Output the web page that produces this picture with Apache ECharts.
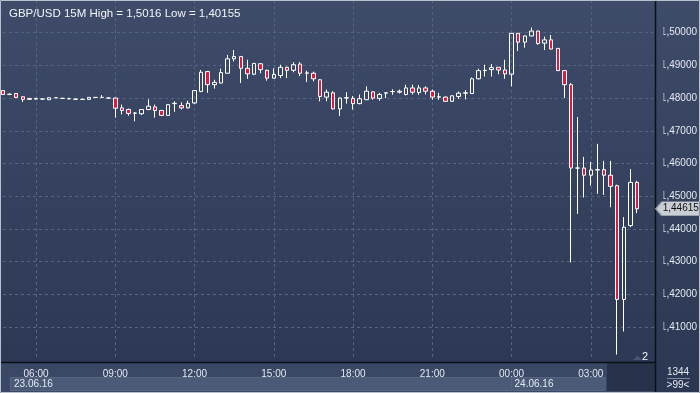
<!DOCTYPE html>
<html>
<head>
<meta charset="utf-8">
<script src="https://cdn.jsdelivr.net/npm/echarts@6/dist/echarts.min.js"></script>
<style>
html,body{margin:0;padding:0;background:#2f3c58;}
#chart{width:700px;height:393px;}
</style>
</head>
<body>
<div id="chart"></div>
<script>
// ---- data (15-minute candles, 23.06.16 04:45 -> 24.06.16 04:45) ----
const startTime = '04:45';
const slotCount = 100; // includes empty future slots at the right edge
const openPrices = [
1.4823,1.4811,1.4814,1.4804,1.4796,1.4797,1.4797,1.4795,1.4801,1.4799,
1.4798,1.4797,1.4796,1.4796,1.4802,1.4802,1.4800,1.4800,1.4770,1.4765,
1.4754,1.4752,1.4765,1.4773,1.4762,1.4747,1.4783,1.4777,1.4770,1.4785,
1.4820,1.4881,1.4841,1.4846,1.4876,1.4920,1.4927,1.4891,1.4873,1.4905,
1.4885,1.4861,1.4869,1.4894,1.4885,1.4904,1.4876,1.4876,1.4856,1.4803,
1.4816,1.4767,1.4800,1.4799,1.4783,1.4795,1.4819,1.4799,1.4815,1.4820,
1.4818,1.4811,1.4831,1.4817,1.4831,1.4821,1.4803,1.4803,1.4790,1.4805,
1.4815,1.4814,1.4859,1.4884,1.4887,1.4894,1.4886,1.4873,1.4998,1.4971,
1.4990,1.5005,1.4968,1.4978,1.4952,1.4884,1.4841,1.4586,1.4586,1.4564,
1.4580,1.4581,1.4564,1.4532,1.4184,1.4410,1.4542];
const highPrices = [
1.4824,1.4814,1.4815,1.4805,1.4800,1.4800,1.4799,1.4802,1.4802,1.4801,
1.4801,1.4799,1.4798,1.4803,1.4803,1.4809,1.4801,1.4801,1.4780,1.4768,
1.4757,1.4766,1.4796,1.4780,1.4764,1.4781,1.4790,1.4787,1.4792,1.4824,
1.4886,1.4883,1.4856,1.4890,1.4932,1.4947,1.4929,1.4917,1.4907,1.4907,
1.4887,1.4891,1.4902,1.4896,1.4910,1.4910,1.4884,1.4881,1.4858,1.4826,
1.4821,1.4802,1.4818,1.4806,1.4811,1.4836,1.4821,1.4816,1.4818,1.4827,
1.4826,1.4841,1.4841,1.4840,1.4836,1.4826,1.4816,1.4805,1.4808,1.4820,
1.4824,1.4863,1.4890,1.4902,1.4904,1.4895,1.4917,1.4999,1.4999,1.4991,
1.5016,1.5006,1.4988,1.4993,1.4953,1.4886,1.4846,1.4742,1.4620,1.4605,
1.4660,1.4608,1.4608,1.4535,1.4436,1.4583,1.4547];
const lowPrices = [
1.4810,1.4809,1.4800,1.4788,1.4795,1.4795,1.4796,1.4794,1.4800,1.4797,
1.4796,1.4794,1.4794,1.4795,1.4801,1.4801,1.4798,1.4740,1.4750,1.4746,
1.4729,1.4748,1.4763,1.4740,1.4745,1.4746,1.4758,1.4765,1.4768,1.4782,
1.4818,1.4816,1.4829,1.4845,1.4875,1.4912,1.4846,1.4859,1.4870,1.4876,
1.4853,1.4860,1.4861,1.4861,1.4879,1.4867,1.4849,1.4851,1.4790,1.4790,
1.4765,1.4745,1.4783,1.4765,1.4781,1.4794,1.4795,1.4792,1.4800,1.4810,
1.4814,1.4808,1.4811,1.4810,1.4811,1.4795,1.4795,1.4788,1.4789,1.4797,
1.4796,1.4813,1.4857,1.4866,1.4866,1.4873,1.4859,1.4836,1.4944,1.4954,
1.4989,1.4963,1.4947,1.4949,1.4883,1.4800,1.4297,1.4446,1.4496,1.4532,
1.4507,1.4504,1.4466,1.40155,1.4086,1.4405,1.4448];
const closePrices = [
1.4811,1.4812,1.4802,1.4796,1.4799,1.4799,1.4797,1.4801,1.4801,1.4799,
1.4798,1.4796,1.4796,1.4802,1.4802,1.4802,1.4800,1.4769,1.4762,1.4753,
1.4754,1.4765,1.4775,1.4762,1.4747,1.4780,1.4784,1.4770,1.4784,1.4823,
1.4879,1.4841,1.4848,1.4878,1.4920,1.4927,1.4891,1.4874,1.4906,1.4887,
1.4861,1.4872,1.4894,1.4885,1.4902,1.4876,1.4877,1.4859,1.4805,1.4818,
1.4767,1.4800,1.4801,1.4783,1.4798,1.4821,1.4800,1.4811,1.4816,1.4820,
1.4821,1.4831,1.4818,1.4831,1.4821,1.4803,1.4804,1.4790,1.4807,1.4815,
1.4816,1.4859,1.4884,1.4885,1.4893,1.4886,1.4874,1.4998,1.4971,1.4990,
1.5005,1.4967,1.4978,1.4950,1.4884,1.4841,1.4586,1.4586,1.4564,1.4580,
1.4581,1.4564,1.4530,1.4184,1.4405,1.4542,1.44615];
const yTickMin = 1.40, yTickMax = 1.51, yTickStep = 0.01;
const titleText = 'GBP/USD 15M High = 1,5016 Low = 1,40155';
const dateLabels = ['23.06.16', '24.06.16'];
const dayStartIndex = 77; // 00:00 of 24.06.16
const footerCount = '1344';
const footerZoom = '>99<';
const cornerLabel = '2';

// ---- build categories & candle table ----
const times = [];
{
  const [h0, m0] = startTime.split(':').map(Number);
  for (let i = 0; i < slotCount; i++) {
    const m = h0 * 60 + m0 + 15 * i;
    const hh = Math.floor(m / 60) % 24, mm = m % 60;
    times.push(String(hh).padStart(2, '0') + ':' + String(mm).padStart(2, '0'));
  }
}
const candles = times.map((t, i) => i < openPrices.length
  ? [openPrices[i], closePrices[i], lowPrices[i], highPrices[i]] : '-');
const lastIdx = openPrices.length - 1;
const lastClose = closePrices[lastIdx];
const fmt = (v, d) => v.toFixed(d).replace('.', ',');
const isMajor = (idx, val) => { const v = times[idx]; return v.endsWith(':00') && (+v.slice(0, 2)) % 3 === 0; };

const FONT = '"Liberation Sans", Arial, sans-serif';
const TXT = '#e4e9f1';
const BG = {type: 'linear', x: 0, y: 0, x2: 0, y2: 1, colorStops: [
    {offset: 0, color: '#3e4b69'}, {offset: 1, color: '#2b3752'}]};
const chart = echarts.init(document.getElementById('chart'), null, {renderer: 'canvas'});

const option = {
  animation: false,
  backgroundColor: BG,
  title: {text: titleText, left: 4, top: 3, textStyle: {color: '#f2f5f9', fontSize: 11.5, fontWeight: 'normal', fontFamily: FONT}},
  grid: {left: 3, width: 658.3, top: -1.86, height: 361.46, containLabel: false},
  xAxis: {
    type: 'category', data: times, boundaryGap: false,
    axisLine: {show: false}, axisTick: {show: false},
    axisLabel: {interval: isMajor, color: TXT, fontSize: 10, fontFamily: FONT, margin: 9.5},
    splitLine: {show: true, interval: isMajor, lineStyle: {color: '#56657f', type: [3, 3], width: 1}}
  },
  yAxis: {
    type: 'value', position: 'right', min: yTickMin, max: yTickMax, interval: yTickStep,
    axisLine: {show: false}, axisTick: {show: false},
    axisLabel: {formatter: v => fmt(v, 5), color: TXT, fontSize: 10, fontFamily: FONT, margin: 4,
      showMinLabel: false, showMaxLabel: false},
    splitLine: {show: true, showMinLine: false, showMaxLine: false, lineStyle: {color: '#56657f', type: [3, 3], width: 1}}
  },
  series: [{
    type: 'candlestick', data: candles, barWidth: 4, clip: true,
    itemStyle: {color: 'rgba(0,0,0,0)', color0: '#e3163d', borderColor: '#ffffff', borderColor0: '#ffffff',
      borderColorDoji: '#ffffff', borderWidth: 1},
    markPoint: {
      z: 100,
      symbol: 'path://M0,7 L6,0 L44,0 L44,14 L6,14 Z', symbolSize: [44, 14], symbolOffset: [40.7, 0],
      itemStyle: {color: '#c9cdd4', borderColor: '#8f98a6', borderWidth: 1},
      label: {show: true, position: 'inside', offset: [3, 0], color: '#111', fontSize: 10, fontFamily: FONT,
        formatter: () => fmt(lastClose, 5)},
      data: [{coord: [lastIdx, lastClose], value: lastClose}]
    }
  }]
};
chart.setOption(option);

// decorative frame pieces positioned from the axes
const xDay = chart.convertToPixel({xAxisIndex: 0}, dayStartIndex);
const xEnd = 655.5;
const plotBottom = 362.5;
chart.setOption({
  graphic: [
    {type: 'rect', z: 55, shape: {x: xEnd, y: 0, width: 8, height: 393}, style: {fill: BG}},
    {type: 'rect', z: -10, shape: {x: 0, y: plotBottom, width: xEnd, height: 393 - plotBottom}, style: {fill: '#3a4866'}},
    {type: 'rect', z: -9, shape: {x: 10.5, y: 377.5, width: xDay - 10.5, height: 13}, style: {fill: '#4b5a77', stroke: '#56657f', lineWidth: 1}},
    {type: 'rect', z: -9, shape: {x: xDay, y: 377.5, width: 605 - xDay, height: 13}, style: {fill: '#4b5a77', stroke: '#56657f', lineWidth: 1}},
    {type: 'rect', z: -9, shape: {x: 607, y: 363, width: xEnd - 607, height: 28}, style: {fill: '#27324a'}},
    {type: 'text', z: 50, style: {x: 14, y: 384, text: dateLabels[0], fill: TXT, font: '10px ' + FONT, textVerticalAlign: 'middle'}},
    {type: 'text', z: 50, style: {x: xDay + 3, y: 384, text: dateLabels[1], fill: TXT, font: '10px ' + FONT, textVerticalAlign: 'middle'}},
    {type: 'line', z: 60, shape: {x1: 0, y1: plotBottom, x2: xEnd, y2: plotBottom}, style: {stroke: '#0b0f17', lineWidth: 1.5}},
    {type: 'line', z: 60, shape: {x1: xEnd, y1: 0, x2: xEnd, y2: 393}, style: {stroke: '#0b0f17', lineWidth: 1.5}},
    {type: 'text', z: 50, style: {x: 678, y: 372, text: footerCount, fill: TXT, font: '10px ' + FONT, textAlign: 'center', textVerticalAlign: 'middle'}},
    {type: 'line', z: 50, shape: {x1: 667, y1: 378.5, x2: 690, y2: 378.5}, style: {stroke: '#7d8aa0', lineWidth: 1}},
    {type: 'text', z: 50, style: {x: 678, y: 385, text: footerZoom, fill: TXT, font: '10px ' + FONT, textAlign: 'center', textVerticalAlign: 'middle'}},
    {type: 'polygon', z: 50, shape: {points: [[633, 360], [637.5, 355.5], [642, 360]]}, style: {fill: '#4a5670'}},
    {type: 'text', z: 50, style: {x: 645, y: 357, text: cornerLabel, fill: '#f2f5f9', font: '11px ' + FONT, textAlign: 'center', textVerticalAlign: 'middle'}},
    {type: 'rect', z: 70, shape: {x: 0.5, y: 0.5, width: 699, height: 392}, style: {fill: 'none', stroke: '#b7c0cc', lineWidth: 1}}
  ]
});
</script>
</body>
</html>
